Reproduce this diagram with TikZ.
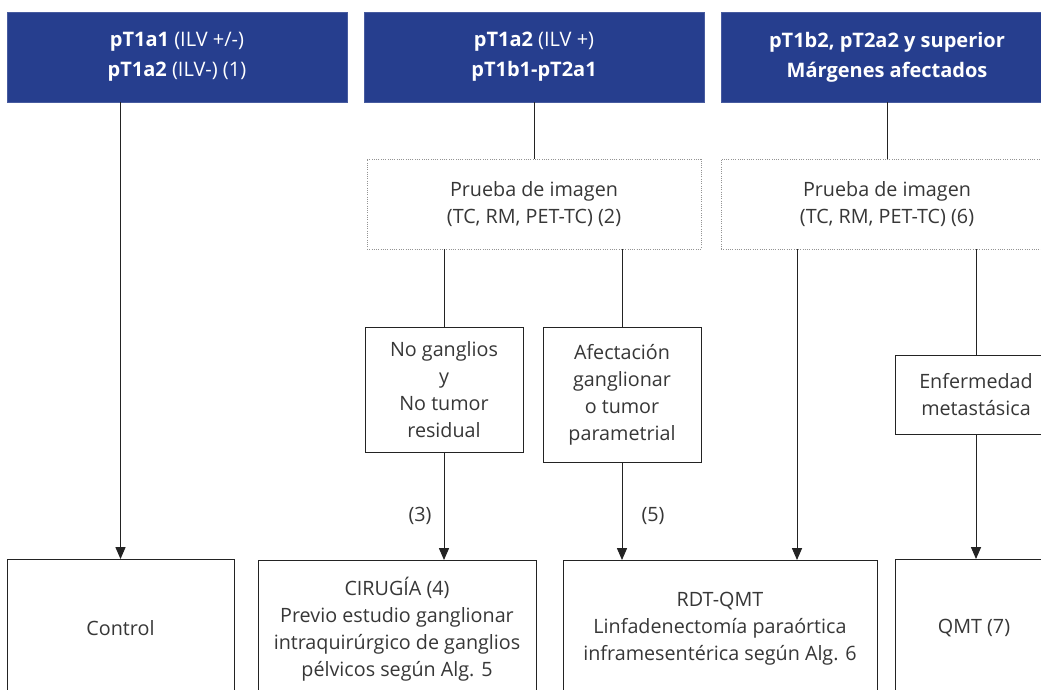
\documentclass[tikz,border=0pt]{standalone}
\usepackage{fontspec}
\setmainfont{Open Sans}
\usetikzlibrary{arrows.meta}
\definecolor{hblue}{RGB}{38,62,142}
\definecolor{txt}{RGB}{55,55,55}
\definecolor{ln}{RGB}{35,35,35}
\begin{document}
\begin{tikzpicture}[x=0.75pt,y=-0.75pt,
  base/.style={anchor=north west, inner sep=0pt, outer sep=0pt, align=center,
    font=\fontsize{14.8}{20.3}\selectfont, text=txt},
  hdr/.style={base, fill=hblue, draw=hblue!85!white, line width=0.6pt, text=white,
    minimum height=67.5pt, font=\fontsize{15}{22.5}\selectfont},
  dotbox/.style={base, draw=gray!85, line width=0.6pt, dash pattern=on 0.6pt off 1.1pt,
    minimum height=67.5pt},
  solbox/.style={base, draw=ln, line width=0.75pt},
  conn/.style={draw=ln, line width=0.75pt},
  arr/.style={conn, -{Triangle[length=9pt,width=7.6pt]}},
  lbl/.style={font=\fontsize{14.8}{20.3}\selectfont, text=txt, inner sep=0pt}]
\useasboundingbox (0,0) rectangle (1041,689);
\clip (0,0) rectangle (1041,689);
\fill[white] (0,0) rectangle (1041,689);

% headers
\node[hdr, minimum width=255pt] (h1) at (7,12) {\textbf{pT1a1} (ILV +/-)\\\textbf{pT1a2} (ILV-) (1)};
\node[hdr, minimum width=255pt] (h2) at (364,12) {\textbf{pT1a2} (ILV +)\\\textbf{pT1b1-pT2a1}};
\node[hdr, minimum width=249pt] (h3) at (721,12) {\textbf{pT1b2, pT2a2 y superior}\\\textbf{Márgenes afectados}};

% imaging boxes
\node[dotbox, minimum width=250.5pt] (d2) at (367,159) {Prueba de imagen\\(TC, RM, PET-TC) (2)};
\node[dotbox, minimum width=249pt] (d3) at (721,159) {Prueba de imagen\\(TC, RM, PET-TC) (6)};

% middle boxes
\node[solbox, minimum width=118.5pt, minimum height=93.75pt] (ng) at (365,327) {No ganglios\\y\\No tumor\\residual};
\node[solbox, minimum width=118.5pt, minimum height=101.25pt] (af) at (543,327) {Afectación\\ganglionar\\o tumor\\parametrial};
\node[solbox, minimum width=121.5pt, minimum height=59.25pt] (enf) at (895,355) {Enfermedad\\metastásica};

% bottom boxes
\node[solbox, minimum width=170.25pt, minimum height=103.5pt] (ctl) at (7,559) {Control};
\node[solbox, minimum width=208.5pt, minimum height=103.5pt] (cir) at (258,560) {CIRUGÍA (4)\\Previo estudio ganglionar\\intraquirúrgico de ganglios\\pélvicos según Alg. 5};
\node[solbox, minimum width=235.5pt, minimum height=103.5pt] (rdt) at (563,560) {RDT-QMT\\Linfadenectomía paraórtica\\inframesentérica según Alg. 6};
\node[solbox, minimum width=118.5pt, minimum height=103.5pt] (qmt) at (895,559) {QMT (7)};

% connectors
\coordinate (c797) at (797,0);
\draw[arr] (h1.south -| ctl.north) -- (ctl.north);
\draw[conn] (h2.south) -- (d2.north);
\draw[conn] (d2.south -| ng.north) -- (ng.north);
\draw[conn] (d2.south -| af.north) -- (af.north);
\draw[arr] (ng.south) -- (ng.south |- cir.north);
\draw[arr] (af.south) -- (af.south |- rdt.north);
\draw[conn] (h3.south) -- (d3.north);
\draw[arr] (d3.south -| c797) -- (rdt.north -| c797);
\draw[conn] (d3.south -| enf.north) -- (enf.north);
\draw[arr] (enf.south) -- (enf.south |- qmt.north);

% labels
\node[lbl] (l3) at (420,516) {(3)};
\node[lbl] (l5) at (653,516) {(5)};
\end{tikzpicture}
\end{document}
